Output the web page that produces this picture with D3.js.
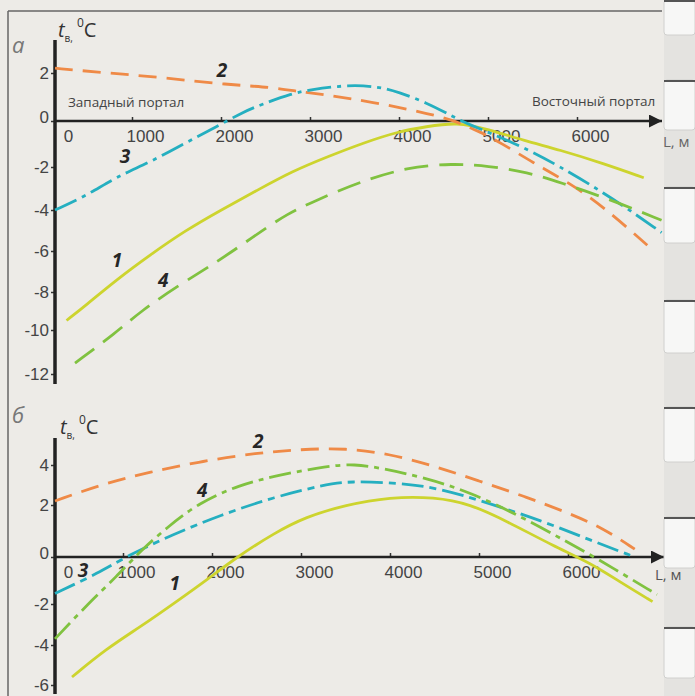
<!DOCTYPE html>
<html lang="ru">
<head>
<meta charset="utf-8">
<title>Температура воздуха в тоннеле</title>
<script src="https://cdn.jsdelivr.net/npm/d3@7"></script>
<style>
  body { margin: 0; background: #edebe7; }
  svg { display: block; font-family: "Open Sans", sans-serif; }
</style>
</head>
<body>
<script>
// ---- data (x = distance L, m; y = temperature, °C) ----
var ticksX = [0, 1000, 2000, 3000, 4000, 5000, 6000];
var ticksYa = [-12, -10, -8, -6, -4, -2, 0, 2];
var ticksYb = [-6, -4, -2, 0, 2, 4];

// panel а
var a1x = [150, 400, 800, 1200, 1600, 2000, 2400, 2800, 3200, 3600, 4000, 4300, 4650, 5000, 5400, 5800, 6300, 6750];
var a1y = [-9.5, -8.7, -7.4, -6.2, -5.0, -4.0, -3.1, -2.2, -1.55, -0.95, -0.45, -0.25, -0.05, -0.35, -0.85, -1.25, -1.85, -2.5];
var a2x = [0, 500, 1300, 2100, 2550, 2900, 3200, 3700, 4250, 4600, 4900, 5150, 5500, 5900, 6300, 6850];
var a2y = [2.2, 2.05, 1.83, 1.5, 1.42, 1.21, 1.08, 0.79, 0.38, 0.05, -0.45, -0.96, -1.8, -2.7, -3.85, -5.95];
var a3x = [0, 400, 800, 1200, 1600, 1950, 2250, 2450, 2800, 3000, 3400, 3750, 4000, 4300, 4600, 4750, 5300, 5800, 6400, 6950];
var a3y = [-4.0, -3.35, -2.45, -1.8, -0.95, -0.25, 0.38, 0.68, 1.15, 1.3, 1.5, 1.45, 1.2, 0.78, 0.2, -0.1, -0.95, -1.95, -3.45, -5.1];
var a4x = [260, 800, 1100, 1550, 1950, 2350, 2750, 3100, 3550, 4100, 4600, 5000, 5450, 5800, 6400, 6950];
var a4y = [-11.5, -10.1, -9.0, -7.6, -6.55, -5.35, -4.15, -3.5, -2.7, -2.0, -1.85, -1.95, -2.25, -2.7, -3.55, -4.5];

// panel б
var b1x = [250, 750, 1200, 1600, 1950, 2280, 2700, 3050, 3500, 4000, 4500, 4900, 5300, 5850, 6250, 6600, 6950];
var b1y = [-5.6, -4.2, -3.1, -1.9, -0.95, 0.0, 0.92, 1.54, 2.0, 2.4, 2.4, 2.05, 1.4, 0.4, -0.25, -1.1, -1.9];
var b2x = [0, 700, 1300, 1900, 2500, 3000, 3500, 4000, 4500, 5000, 5500, 6000, 6400, 6750];
var b2y = [2.2, 3.05, 3.65, 4.2, 4.6, 4.78, 4.85, 4.55, 3.95, 3.2, 2.45, 1.7, 1.1, 0.3];
var b3x = [0, 650, 1050, 1550, 2100, 2700, 3250, 3550, 4100, 4550, 5100, 5700, 6250, 6750];
var b3y = [-1.55, -0.67, 0.05, 0.85, 1.62, 2.4, 3.0, 3.2, 3.1, 2.85, 2.1, 1.4, 0.65, 0.0];
var b4x = [0, 500, 900, 1200, 1500, 1850, 2300, 2750, 3300, 3600, 3900, 4400, 4900, 5500, 5900, 6300, 7000];
var b4y = [-3.7, -1.95, -0.85, 0.25, 1.15, 2.1, 3.0, 3.5, 3.95, 4.05, 3.85, 3.35, 2.65, 1.5, 0.75, 0.0, -1.6];

// curve numbers, placed in data coordinates
var labNames = ["1", "2", "3", "4"];
var labAx = [805, 2010, 910, 1350];
var labAy = [-6.55, 2.05, -1.6, -7.5];
var labBx = [1580, 2520, 410, 1890];
var labBy = [-1.2, 5.1, -0.65, 2.65];

var colors = ["#cdd42e", "#ef8a47", "#25afc0", "#80c240"];

// ---- drawing ----
var w = 695, h = 696;
var svg = d3.select("body").append("svg").attr("width", w).attr("height", h);

svg.append("rect").attr("width", w).attr("height", h).attr("fill", "#edebe7");

// frame of the printed figure
svg.append("line").attr("x1", 8).attr("x2", 8).attr("y1", 11).attr("y2", h)
   .attr("stroke", "#666").attr("stroke-width", 1.5);
svg.append("line").attr("x1", 8).attr("x2", 662).attr("y1", 11).attr("y2", 11)
   .attr("stroke", "#666").attr("stroke-width", 1.5);

svg.append("defs").append("marker")
   .attr("id", "arr").attr("viewBox", "0 0 10 10").attr("refX", 10).attr("refY", 5)
   .attr("markerWidth", 5).attr("markerHeight", 5).attr("orient", "auto")
   .attr("markerUnits", "strokeWidth")
   .append("path").attr("d", "M0,0L10,5L0,10z").attr("fill", "#222");

function series(xs, ys) {
  return xs.map(function(d, i) { return [d, ys[i]]; });
}

function panel(p) {
  var g = svg.append("g");
  var x = d3.scaleLinear().domain([0, 1000, 6000]).range(p.xr);
  var y = d3.scaleLinear().domain(p.yd).range(p.yr);
  var y0 = y(0);

  // y axis
  var ay = g.append("g").attr("transform", "translate(" + p.left + ",0)")
    .call(d3.axisLeft(y).tickValues(p.yticks).tickSize(4).tickPadding(2).tickFormat(String));
  ay.select(".domain").remove();
  ay.selectAll(".tick line").attr("stroke", "#333").attr("stroke-width", 1.5);
  ay.selectAll("text").attr("font-size", 17).attr("fill", "#444").attr("dy", "0.35em");
  ay.selectAll(".tick").filter(function(d) { return d === 0; }).select("text").attr("dy", "0.1em");
  g.append("line").attr("x1", p.left).attr("x2", p.left).attr("y1", p.ytop).attr("y2", p.ybot)
    .attr("stroke", "#222").attr("stroke-width", 3.5);

  // x axis
  var ax = g.append("g").attr("transform", "translate(0," + y0 + ")")
    .call(d3.axisBottom(x).tickValues(ticksX).tickSize(-4).tickPadding(9).tickFormat(String));
  ax.select(".domain").remove();
  ax.selectAll(".tick line").attr("stroke", "#333").attr("stroke-width", 1.5)
    .filter(function(d) { return d === 0; }).remove();
  ax.selectAll("text").attr("font-size", 17).attr("fill", "#444").attr("dx", 13);
  g.append("line").attr("x1", p.left).attr("x2", p.xend).attr("y1", y0).attr("y2", y0)
    .attr("stroke", "#222").attr("stroke-width", 2.6).attr("marker-end", "url(#arr)");

  // curves
  var line = d3.line().x(function(d) { return x(d[0]); }).y(function(d) { return y(d[1]); })
    .curve(d3.curveBasis);
  p.data.forEach(function(s, i) {
    g.append("path").attr("d", line(s)).attr("fill", "none")
      .attr("stroke", colors[i]).attr("stroke-width", 2.8)
      .attr("stroke-dasharray", p.dashes[i]);
  });

  // curve numbers
  labNames.forEach(function(t, i) {
    g.append("text").attr("x", x(p.lx[i])).attr("y", y(p.ly[i]))
      .attr("text-anchor", "middle").attr("dominant-baseline", "middle")
      .attr("font-size", 19).attr("font-weight", "bold").attr("font-style", "italic")
      .attr("fill", "#262626").text(t);
  });

  // axis title t_в, °C
  var tt = g.append("text").attr("x", p.tx).attr("y", p.ty).attr("fill", "#333");
  tt.append("tspan").attr("font-size", 20).attr("font-style", "italic").text("t");
  tt.append("tspan").attr("font-size", 10).attr("dy", 5).text("в,");
  tt.append("tspan").attr("font-size", 12).attr("dx", 4).attr("dy", -15).text("0");
  tt.append("tspan").attr("font-size", 20).attr("dy", 10).text("C");

  // panel letter
  g.append("text").attr("x", 12).attr("y", p.py).attr("font-size", 22)
    .attr("font-style", "italic").attr("fill", "#777").text(p.name);

  return { x: x, y: y, g: g, y0: y0 };
}

var pa = panel({
  name: "а", py: 53, left: 55, xr: [55, 132, 577], xend: 662,
  yd: ticksYa, yr: [374, 330, 292, 251, 210, 167, 121, 73],
  yticks: ticksYa, ytop: 40, ybot: 384,
  data: [series(a1x, a1y), series(a2x, a2y), series(a3x, a3y), series(a4x, a4y)],
  dashes: [null, "18,10", "24,6,4,6", "24,11"],
  lx: labAx, ly: labAy, tx: 58, ty: 37
});

pa.g.append("text").attr("x", 68).attr("y", 107).attr("font-size", 13.5)
  .attr("fill", "#444").text("Западный портал");
pa.g.append("text").attr("x", 532).attr("y", 106).attr("font-size", 13.5)
  .attr("fill", "#444").text("Восточный портал");

var pb = panel({
  name: "б", py: 423, left: 55, xr: [55, 123, 568], xend: 664,
  yd: ticksYb, yr: [685, 645, 604, 557, 505, 465],
  yticks: ticksYb, ytop: 438, ybot: 694,
  data: [series(b1x, b1y), series(b2x, b2y), series(b3x, b3y), series(b4x, b4y)],
  dashes: [null, "18,10", "22,6,7,6", "22,6,5,6"],
  lx: labBx, ly: labBy, tx: 60, ty: 434
});

// binder tabs at the right edge of the scanned page
var tabs = [[0, 35], [80, 130], [187, 243], [300, 353], [407, 462], [517, 568], [627, 678]];
svg.append("rect").attr("x", 664).attr("y", 0).attr("width", 31).attr("height", h).attr("fill", "#e4e3e0");
tabs.forEach(function(t) {
  svg.append("rect").attr("x", 664).attr("y", t[0]).attr("width", 31).attr("height", t[1] - t[0])
    .attr("rx", 3).attr("fill", "#f7f7f6").attr("stroke", "#d0d0ce");
  svg.append("line").attr("x1", 664).attr("x2", 695).attr("y1", t[0] + 1).attr("y2", t[0] + 1)
    .attr("stroke", "#555").attr("stroke-width", 2);
});

// axis names, partly over the tabs as in the scan
svg.append("text").attr("x", 663).attr("y", pa.y0 + 26).attr("font-size", 15)
  .attr("fill", "#666").text("L, м");
svg.append("text").attr("x", 655).attr("y", pb.y0 + 23).attr("font-size", 15)
  .attr("fill", "#555").text("L, м");
</script>
</body>
</html>
